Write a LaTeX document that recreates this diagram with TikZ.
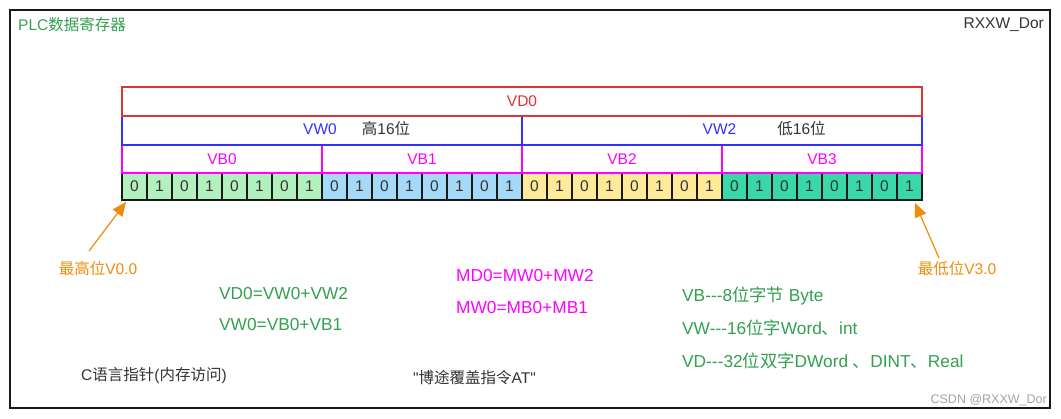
\documentclass[tikz,border=0pt]{standalone}
\usepackage{fontspec}
\setmainfont{Liberation Sans}[Ligatures=TeXOff]
\newfontfamily\cjk{Noto Sans CJK SC}
\usetikzlibrary{arrows.meta,calc}
\definecolor{cRed}{RGB}{225,50,50}
\definecolor{cBlue}{RGB}{50,50,255}
\definecolor{cMag}{RGB}{255,0,255}
\definecolor{cGreen}{RGB}{52,160,80}
\definecolor{cOrange}{RGB}{240,140,10}
\definecolor{cText}{RGB}{51,51,51}
\definecolor{fGreen}{RGB}{178,240,190}
\definecolor{fBlue}{RGB}{166,216,248}
\definecolor{fYellow}{RGB}{255,234,153}
\definecolor{fTeal}{RGB}{56,216,168}
\definecolor{cWater}{RGB}{165,165,165}
\begin{document}
\begin{tikzpicture}[x=1pt,y=-1pt,
  txt/.style={inner sep=0pt,font=\fontsize{15.5}{18}\selectfont,text=cText},
  big/.style={inner sep=0pt,font=\fontsize{17.3}{20}\selectfont},
  regbox/.style={draw,line width=2pt,inner sep=0pt,minimum width=#1,anchor=north west},
  vdbox/.style={regbox=800,draw=cRed,minimum height=29},
  vwbox/.style={regbox=400,draw=cBlue,minimum height=29},
  vbbox/.style={regbox=200,draw=cMag,minimum height=28},
  bitcell/.style={draw=black!90,line width=2pt,minimum width=25,minimum height=27,inner sep=0pt,
     anchor=north west,text=cText,font=\fontsize{15.5}{18}\selectfont},
  pointer/.style={draw=cOrange,line width=1.2pt,-{Triangle[length=14pt,width=12pt]}}
]
\useasboundingbox (0,0) rectangle (1061,418);
\fill[white] (0,0) rectangle (1061,418);
\draw[line width=2pt,black!90] (10,10) rectangle (1050,407.5);

\node[txt,anchor=west,text=cGreen] (title) at (18,25) {PLC{\cjk 数据寄存器}};
\node[txt,anchor=east] (author) at (1044,25) {RXXW\_Dor};

% bit cells
\foreach \i in {0,...,31}{
  \pgfmathtruncatemacro{\grp}{int(\i/8)}
  \pgfmathtruncatemacro{\val}{mod(\i,2)}
  \ifcase\grp \def\fc{fGreen}\or \def\fc{fBlue}\or \def\fc{fYellow}\or \def\fc{fTeal}\fi
  \node[bitcell,fill=\fc] (b\i) at ({121+25*\i},172) {\val};
}

% byte boxes
\node[vbbox] (vb0) at (121,144) {};
\node[vbbox] (vb1) at (321,144) {};
\node[vbbox] (vb2) at (521,144) {};
\node[vbbox] (vb3) at (721,144) {};
\foreach \k in {0,...,3}{
  \node[txt,text=cMag] (vbl\k) at (vb\k.center) {VB\k};
}

% word boxes
\node[vwbox] (vw0) at (121,115) {};
\node[vwbox] (vw2) at (521,115) {};
\node[txt,text=cBlue] (vw0l) at (320,129) {VW0};
\node[txt] (vw0h) at (386,129) {{\cjk 高}16{\cjk 位}};
\node[txt,text=cBlue] (vw2l) at (719.5,129) {VW2};
\node[txt] (vw2h) at (801.5,129) {{\cjk 低}16{\cjk 位}};

% double word box
\node[vdbox] (vd0) at (121,86) {};
\node[txt,text=cRed] (vd0l) at (vd0.center) {VD0};

% pointers
\node[txt,text=cOrange] (hi) at (98,269) {{\cjk 最高位}V0.0};
\node[txt,text=cOrange] (lo) at (957,269) {{\cjk 最低位}V3.0};
\coordinate (hit) at (89,251);
\coordinate (lot) at (939,258);
\draw[pointer] (hit) -- ($(b0.south west)+(5,1)$);
\draw[pointer] (lot) -- ($(b31.south east)+(-8,2)$);

% formulas
\node[big,text=cGreen,anchor=west] (f1) at (219,293.5) {VD0=VW0+VW2};
\node[big,text=cGreen,anchor=west] (f2) at (219,325) {VW0=VB0+VB1};
\node[big,text=cMag,anchor=west] (m1) at (456,276) {MD0=MW0+MW2};
\node[big,text=cMag,anchor=west] (m2) at (456,307.5) {MW0=MB0+MB1};

\node[big,text=cGreen,anchor=west] (t1) at (682,296) {VB---8{\cjk 位字节} Byte};
\node[big,text=cGreen,anchor=west] (t2) at (682,328) {VW---16{\cjk 位字}Word{\cjk 、}int};
\node[big,text=cGreen,anchor=west] (t3) at (682,361) {VD---32{\cjk 位双字}DWord {\cjk 、}DINT{\cjk 、}Real};

\node[txt,anchor=west] (cptr) at (81,376) {C{\cjk 语言指针}({\cjk 内存访问})};
\node[txt,anchor=west] (at) at (413,377.5) {"{\cjk 博途覆盖指令}AT"};

\node[inner sep=0pt,anchor=east,text=cWater,font=\fontsize{12.5}{14}\selectfont] (wm) at (1047,400) {CSDN @RXXW\_Dor};
\end{tikzpicture}
\end{document}
